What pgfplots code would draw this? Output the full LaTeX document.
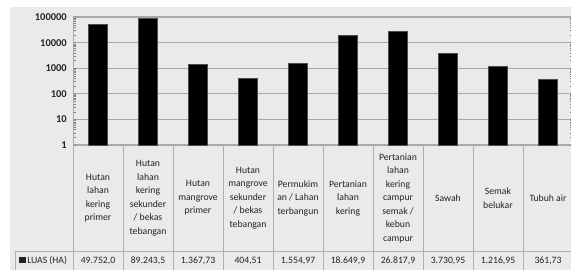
\documentclass[border=0pt]{standalone}
\usepackage{pgfplots}
\pgfplotsset{compat=1.18}
\usepackage{fontspec}
\setmainfont{Carlito}
\definecolor{bgc}{RGB}{234,234,234}
\definecolor{gridc}{RGB}{168,168,168}
\definecolor{tabc}{RGB}{175,175,175}
\definecolor{txt}{RGB}{35,35,35}
\begin{document}
\begin{tikzpicture}[x=1pt,y=1pt]
\path[use as bounding box, clip] (0,0) rectangle (571,270);
\fill[white] (0,0) rectangle (571,270);
\fill[bgc] (10,0) rectangle (571,263);
\begin{axis}[
  at={(73pt,125pt)}, anchor=south west,
  scale only axis, width=500pt, height=128pt,
  xmin=-0.5, xmax=9.5,
  ymode=log, ymin=1, ymax=100000,
  ytick={1,10,100,1000,10000,100000},
  yticklabels={1,10,100,1000,10000,100000},
  yticklabel style={font=\fontsize{10.5}{12}\selectfont\bfseries, text=txt, inner sep=0pt, xshift=-6pt},
  /pgf/number format/assume math mode=true,
  xtick=\empty,
  major tick length=0pt,
  ymajorgrids, yminorgrids=false, minor y tick num=0,
  major grid style={draw=gridc, line width=1.3pt},
  axis line style={draw=none},
  ybar, bar width=19pt,
  clip=false,
]
\addplot[fill=black, draw=black!70, line width=0.6pt] coordinates {
(0,49752.0) (1,89243.5) (2,1367.73) (3,404.51) (4,1554.97)
(5,18649.9) (6,26817.9) (7,3730.95) (8,1216.95) (9,361.73)};
\end{axis}
% left axis line
\draw[gridc, line width=1.0pt] (73,253) -- (73,125);
% table lines
\foreach \k in {0,...,10} {
  \draw[tabc, line width=0.8pt] ({73+50*\k},125) -- ({73+50*\k},0);
}
\draw[tabc, line width=0.8pt] (15,19) -- (571,19);
\draw[tabc, line width=0.8pt] (15,19) -- (15,0);
% category labels
\begin{scope}[every node/.style={font=\fontsize{9.7}{13.5}\selectfont, text=txt, align=center, anchor=center, inner sep=0pt}]
\node at ({73+50*0.5},72) {Hutan\\lahan\\kering\\primer};
\node at ({73+50*1.5},72) {Hutan\\lahan\\kering\\sekunder\\/ bekas\\tebangan};
\node at ({73+50*2.5},72) {Hutan\\mangrove\\primer};
\node at ({73+50*3.5},72) {Hutan\\mangrove\\sekunder\\/ bekas\\tebangan};
\node at ({73+50*4.5},72) {Permukim\\an / Lahan\\terbangun};
\node at ({73+50*5.5},72) {Pertanian\\lahan\\kering};
\node at ({73+50*6.5},72) {Pertanian\\lahan\\kering\\campur\\semak /\\kebun\\campur};
\node at ({73+50*7.5},72) {Sawah};
\node at ({73+50*8.5},72) {Semak\\belukar};
\node at ({73+50*9.5},72) {Tubuh air};
% values
\node at ({73+50*0.5},9.5) {49.752,0};
\node at ({73+50*1.5},9.5) {89.243,5};
\node at ({73+50*2.5},9.5) {1.367,73};
\node at ({73+50*3.5},9.5) {404,51};
\node at ({73+50*4.5},9.5) {1.554,97};
\node at ({73+50*5.5},9.5) {18.649,9};
\node at ({73+50*6.5},9.5) {26.817,9};
\node at ({73+50*7.5},9.5) {3.730,95};
\node at ({73+50*8.5},9.5) {1.216,95};
\node at ({73+50*9.5},9.5) {361,73};
\node[anchor=west] at (19,9.5) {\rule{6.5pt}{6.5pt}\,LUAS (HA)};
\end{scope}
\end{tikzpicture}
\end{document}
